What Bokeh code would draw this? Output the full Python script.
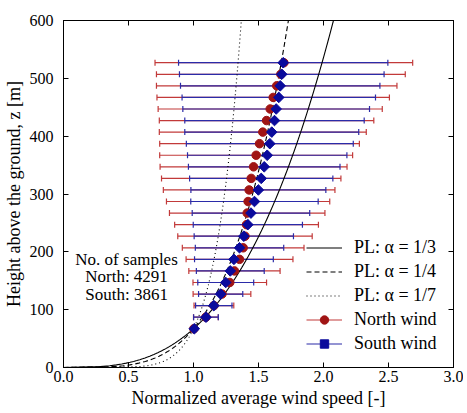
import numpy as np
from bokeh.plotting import figure
from bokeh.models import (Range1d, LinearAxis, FixedTicker, PrintfTickFormatter,
                          Legend, LegendItem, Label, ColumnDataSource)
from bokeh.embed import file_html
from bokeh.resources import INLINE

# ---- data ----
heights = [67, 87, 107, 127, 147, 167, 187, 207, 227, 247, 267, 287,
           307, 327, 347, 367, 387, 407, 427, 447, 467, 487, 507, 527]
north_mean = [1.003, 1.095, 1.157, 1.219, 1.279, 1.315, 1.354, 1.382, 1.396, 1.408, 1.413, 1.420,
              1.428, 1.444, 1.462, 1.482, 1.508, 1.533, 1.562, 1.590, 1.613, 1.640, 1.672, 1.695]
north_std = [0.0, 0.095, 0.153, 0.222, 0.283, 0.351, 0.411, 0.468, 0.517, 0.553, 0.598, 0.628,
             0.660, 0.690, 0.719, 0.742, 0.768, 0.796, 0.825, 0.862, 0.894, 0.925, 0.957, 0.991]
south_mean = [1.006, 1.096, 1.156, 1.209, 1.248, 1.283, 1.311, 1.354, 1.387, 1.418, 1.442, 1.469,
              1.499, 1.521, 1.544, 1.567, 1.587, 1.602, 1.623, 1.636, 1.656, 1.667, 1.679, 1.690]
south_std = [0.0, 0.095, 0.140, 0.170, 0.215, 0.261, 0.303, 0.340, 0.382, 0.420, 0.452, 0.490,
             0.519, 0.551, 0.583, 0.613, 0.642, 0.669, 0.690, 0.718, 0.744, 0.767, 0.787, 0.805]
z_ref = 67
alphas = [1/3, 1/4, 1/7]
alpha_labels = ["PL: α = 1/3", "PL: α = 1/4", "PL: α = 1/7"]
alpha_dashes = ["solid", "5 3", "1 3"]
x_ticks = [0.0, 0.5, 1.0, 1.5, 2.0, 2.5, 3.0]
y_ticks = [0, 100, 200, 300, 400, 500, 600]
sample_text = ["No. of samples", "North: 4291", "South: 3861"]

FONT = "'Liberation Serif', 'Times New Roman', serif"
RED_BAR = "#c23a3a"
BLUE_BAR = "#2b2ba8"
RED_MK = "#a01414"
BLUE_MK = "#0a0a9c"

def src(mean, std):
    m = np.array(mean); s = np.array(std)
    return ColumnDataSource(dict(z=heights, m=m, lo=m - s, hi=m + s))

ns = src(north_mean, north_std)
ss = src(south_mean, south_std)

p = figure(width=463, height=410, x_range=Range1d(0, 3), y_range=Range1d(0, 600),
           output_backend="svg", toolbar_location=None,
           min_border_left=63, min_border_right=10, min_border_top=20, min_border_bottom=41)
p.grid.visible = False
p.outline_line_color = "black"
p.background_fill_color = "white"

# error bars
r_seg = p.segment(x0="lo", y0="z", x1="hi", y1="z", source=ns, line_color=RED_BAR, line_width=1.2)
p.scatter(x="lo", y="z", source=ns, marker="dash", angle=np.pi/2, size=6, line_color=RED_BAR, line_width=1.2)
p.scatter(x="hi", y="z", source=ns, marker="dash", angle=np.pi/2, size=6, line_color=RED_BAR, line_width=1.2)
b_seg = p.segment(x0="lo", y0="z", x1="hi", y1="z", source=ss, line_color=BLUE_BAR, line_width=1.2)
p.scatter(x="lo", y="z", source=ss, marker="dash", angle=np.pi/2, size=6, line_color=BLUE_BAR, line_width=1.2)
p.scatter(x="hi", y="z", source=ss, marker="dash", angle=np.pi/2, size=6, line_color=BLUE_BAR, line_width=1.2)

# power law curves
zz = np.linspace(0, 600, 400)
line_rs = []
for a, d in zip(alphas, alpha_dashes):
    r = p.line((zz / z_ref) ** a, zz, line_color="black", line_width=1.1, line_dash=d)
    line_rs.append(r)

r_mk = p.scatter(x="m", y="z", source=ns, marker="circle", size=8.5,
                 fill_color=RED_MK, line_color=RED_MK)
b_mk = p.scatter(x="m", y="z", source=ss, marker="square", angle=np.pi/4, size=7.5,
                 fill_color=BLUE_MK, line_color=BLUE_MK)

# axes
for ax in [p.xaxis[0], p.yaxis[0]]:
    ax.major_tick_in = 5
    ax.major_tick_out = 0
    ax.minor_tick_line_color = None
    ax.axis_line_color = "black"
    ax.major_tick_line_color = "black"
    ax.major_label_text_font = FONT
    ax.major_label_text_font_size = "16px"
    ax.major_label_text_color = "black"
    ax.axis_label_text_font = FONT
    ax.axis_label_text_font_size = "18px"
    ax.axis_label_text_font_style = "normal"
    ax.axis_label_text_color = "black"

p.xaxis[0].ticker = FixedTicker(ticks=x_ticks)
p.xaxis[0].formatter = PrintfTickFormatter(format="%.1f")
p.xaxis[0].axis_label = "Normalized average wind speed [-]"
p.xaxis[0].major_label_standoff = 3
p.xaxis[0].axis_label_standoff = 3
p.yaxis[0].ticker = FixedTicker(ticks=y_ticks)
p.yaxis[0].formatter = PrintfTickFormatter(format="%d")
p.yaxis[0].axis_label = "Height above the ground, z [m]"
p.yaxis[0].major_label_standoff = 10
p.yaxis[0].axis_label_standoff = 3

for side, tk in [("right", y_ticks), ("above", x_ticks)]:
    ax = LinearAxis(ticker=FixedTicker(ticks=tk), major_tick_in=5, major_tick_out=0,
                    minor_tick_line_color=None,
                    major_label_overrides={t: "" for t in tk},
                    major_label_standoff=0, axis_line_color="black",
                    major_tick_line_color="black")
    p.add_layout(ax, side)

# legend
items = [LegendItem(label=l, renderers=[r]) for l, r in zip(alpha_labels, line_rs)]
items.append(LegendItem(label="North wind", renderers=[r_seg, r_mk]))
items.append(LegendItem(label="South wind", renderers=[b_seg, b_mk]))
leg = Legend(items=items, location=(243, 13), background_fill_alpha=0, border_line_alpha=0,
             label_text_font=FONT, label_text_font_size="18px", label_text_color="black",
             glyph_width=36, glyph_height=21, label_height=21, spacing=3, padding=0, margin=0,
             label_standoff=12)
p.add_layout(leg, "center")

for t, y in zip(sample_text, [187, 158, 127]):
    p.add_layout(Label(x=0.485, y=y, text=t, text_align="center", text_baseline="middle",
                       text_font=FONT, text_font_size="17px", text_color="black"))

open("out.html", "w").write(file_html(p, INLINE))
